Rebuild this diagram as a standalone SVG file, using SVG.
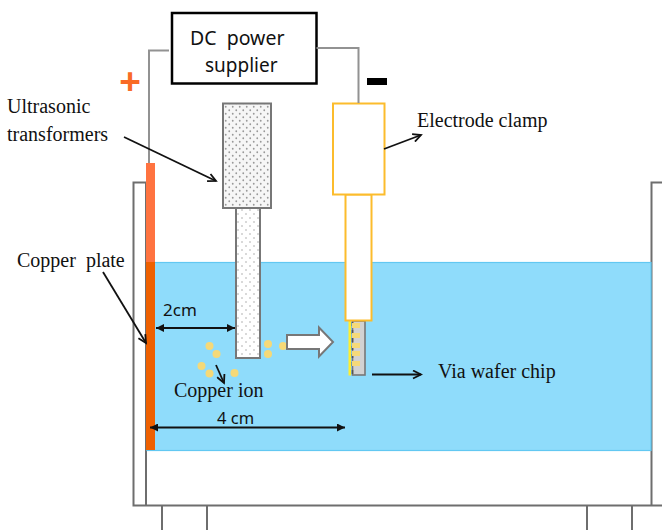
<svg xmlns="http://www.w3.org/2000/svg" width="662" height="530" viewBox="0 0 662 530">
<defs>
<style>
.t{stroke:#6e6e6e;stroke-width:2;fill:none}
.w{stroke:#929292;stroke-width:2;fill:none}
.y{stroke:#fcbc2c;stroke-width:2;fill:#fff}
.a{stroke:#111;stroke-width:1.800;fill:none}
.d{fill:#f5d978}
.s{font-family:"Noto Sans","Open Sans","Liberation Sans",sans-serif;fill:#111}
.r{font-family:"Liberation Serif",serif;fill:#111}
</style>
<pattern id="dots" width="8" height="8" patternUnits="userSpaceOnUse">
<rect width="8" height="8" fill="#fff"/>
<circle cx="2" cy="2" r="0.800" fill="#aaa"/>
<circle cx="6" cy="6" r="0.800" fill="#aaa"/>
</pattern>
<pattern id="dotsD" width="7" height="7" patternUnits="userSpaceOnUse">
<rect width="7" height="7" fill="#f6f6f6"/>
<circle cx="1.750" cy="1.750" r="0.900" fill="#999"/>
<circle cx="5.250" cy="5.250" r="0.900" fill="#999"/>
</pattern>
<marker id="ah" markerWidth="11" markerHeight="10" refX="9" refY="5" orient="auto" markerUnits="userSpaceOnUse">
<path d="M1 1L9 5L1 9" fill="none" stroke="#111" stroke-width="1.800"/>
</marker>
<marker id="bh" markerWidth="9" markerHeight="8" refX="8" refY="4" orient="auto-start-reverse" markerUnits="userSpaceOnUse">
<path d="M0 0L8 4L0 8Z" fill="#111"/>
</marker>
</defs>
<rect width="662" height="530" fill="#fff"/>
<g id="tank">
<path class="t" d="M146 505V182.500H133.500V505.500H662M662 182.500H651.500V505.500M162 505.500V530M207 505.500V530M587 505.500V530M632 505.500V530"/>
</g>
<g id="water">
<rect x="147" y="262.500" width="504" height="188" fill="#8fdcfb" stroke="#62c8f2" stroke-width="1.200"/>
</g>
<g id="copper-plate">
<rect x="146" y="163" width="9" height="99" fill="#ff7340"/>
<rect x="146" y="262" width="9" height="188" fill="#ee6000"/>
<text class="r" x="17" y="267" font-size="20" xml:space="preserve">Copper  plate</text>
</g>
<g id="plus"><text x="130" y="94" font-family="Liberation Sans,sans-serif" font-size="37" font-weight="bold" fill="#f96b25" text-anchor="middle">+</text></g>
<g id="minus"><rect x="367" y="78" width="20" height="7" fill="#000"/></g>
<g id="power-supply">
<rect x="172" y="13" width="144.500" height="70.500" fill="#fff" stroke="#000" stroke-width="2.500"/>
<text class="s" x="190" y="45" font-size="19.500" xml:space="preserve">DC  power</text>
<text class="s" x="205" y="72" font-size="19">supplier</text>
</g>
<g id="ultrasonic-transformer">
<rect x="223" y="103.500" width="48" height="104.500" fill="url(#dotsD)" stroke="#777" stroke-width="2"/>
<rect x="236" y="208" width="24" height="150" fill="url(#dots)" stroke="#777" stroke-width="2"/>
<text class="r" x="7" y="113" font-size="20">Ultrasonic</text>
<text class="r" x="7" y="141" font-size="20">transformers</text>
</g>
<g id="via-wafer-chip">
<rect x="352.500" y="321" width="12.500" height="54" fill="#d2d2d2" stroke="#777" stroke-width="1.600"/>
<path d="M352.500 322V374" stroke="#555" stroke-width="1.600" stroke-dasharray="4 4" fill="none"/>
<rect x="348.500" y="321" width="2.500" height="54.500" fill="#ffee30"/>
<g class="d">
<rect x="352" y="323" width="8" height="5"/><rect x="352" y="333" width="8" height="5"/><rect x="352" y="343" width="8" height="5"/><rect x="352" y="351" width="8" height="5"/><rect x="352" y="361" width="8" height="5"/>
</g>
<text class="r" x="438" y="378" font-size="20">Via wafer chip</text>
</g>
<g id="electrode-clamp">
<rect x="345.500" y="194.500" width="26" height="126" class="y"/>
<rect x="333" y="103.500" width="51.500" height="91" class="y"/>
<text class="r" x="417" y="127" font-size="20">Electrode clamp</text>
</g>
<g id="copper-ions" class="d">
<circle cx="209.500" cy="346" r="4"/><circle cx="216.500" cy="354" r="4"/><circle cx="201.500" cy="366" r="4"/><circle cx="209.500" cy="373.500" r="4"/><circle cx="234.500" cy="373" r="4"/><circle cx="268" cy="344" r="4"/><circle cx="268" cy="354" r="4"/><circle cx="283" cy="346" r="4"/>
<text class="r" x="174" y="397" font-size="20" style="fill:#111">Copper ion</text>
</g>
<g id="flow-arrow">
<path d="M287 335H319V327.500L333 342L319 356.500V349H287Z" fill="#fff" stroke="#777" stroke-width="2"/>
</g>
<g id="connectors">
<path class="w" d="M169 50.500H149V163M316.500 48H358.500V103"/>
<path class="a" marker-end="url(#ah)" d="M124 137L216 181"/>
<path class="a" marker-end="url(#ah)" d="M384 149L421 135"/>
<path class="a" marker-end="url(#ah)" d="M103 272L146 343"/>
<path class="a" marker-end="url(#ah)" d="M216 365L224 383"/>
<path class="a" marker-end="url(#ah)" d="M372 374.500H421"/>
<path class="a" marker-start="url(#bh)" marker-end="url(#bh)" d="M156 328H235"/>
<path class="a" marker-start="url(#bh)" marker-end="url(#bh)" d="M150 427.500H345"/>
</g>
<g id="dimensions">
<text class="s" x="163" y="316" font-size="17">2cm</text>
<text class="s" x="217" y="424" font-size="16.500">4 cm</text>
</g>
</svg>
